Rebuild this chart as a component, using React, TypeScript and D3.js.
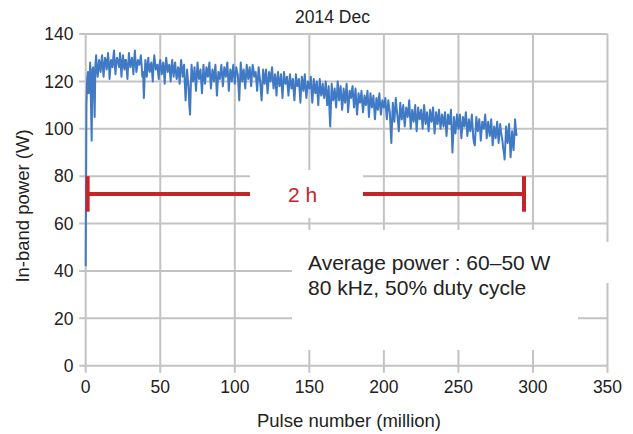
import React from "react";
import * as d3 from "d3";

const title = "2014 Dec";
const xTicks = [0, 50, 100, 150, 200, 250, 300, 350];
const yTicks = [0, 20, 40, 60, 80, 100, 120, 140];
const xLabel = "Pulse number (million)";
const yLabel = "In-band power (W)";
const noteLines = ["Average power : 60\u201350 W", "80 kHz, 50% duty cycle"];
const spanLabel = "2 h";
const spanStartEnd = [1.3, 294];
const spanLevel = 72.5;
const spanCap = [65, 80];

// In-band power (W), readings at 0, 1, 2 ... million pulses
const power = [
  42, 121, 115, 128, 95, 126, 105, 131, 122, 129,
  124, 131, 122, 130, 125, 132, 121, 129, 126, 133,
  123, 130, 127, 132, 122, 131, 125, 129, 121, 132,
  126, 130, 123, 133, 124, 129, 127, 131, 122, 113,
  129, 122, 130, 124, 128, 120, 131, 125, 127, 121,
  129, 123, 128, 119, 130, 124, 127, 120, 129, 122,
  128, 121, 126, 119, 129, 122, 127, 112, 125, 118,
  106, 127, 120, 126, 116, 128, 121, 125, 115, 127,
  119, 126, 122, 128, 117, 125, 120, 127, 114, 124,
  121, 127, 118, 126, 122, 128, 116, 125, 120, 127,
  119, 126, 123, 112, 128, 120, 125, 117, 127, 121,
  126, 118, 127, 122, 124, 116, 126, 120, 112, 125,
  119, 125, 115, 124, 120, 126, 117, 123, 114, 124,
  118, 123, 113, 124, 119, 122, 114, 123, 117, 121,
  112, 123, 118, 121, 111, 122, 116, 123, 113, 120,
  117, 122, 111, 121, 115, 120, 110, 121, 114, 119,
  113, 120, 110, 118, 101, 119, 112, 117, 109, 120,
  112, 118, 108, 117, 111, 119, 107, 116, 113, 118,
  109, 117, 106, 115, 111, 116, 107, 114, 110, 116,
  105, 115, 109, 114, 104, 113, 108, 115, 106, 112,
  109, 113, 104, 112, 107, 94, 111, 103, 113, 106,
  99, 111, 104, 110, 101, 109, 105, 112, 100, 108,
  103, 110, 99, 109, 104, 108, 100, 110, 102, 107,
  99, 108, 103, 109, 98, 107, 102, 108, 100, 106,
  101, 107, 97, 106, 102, 108, 90, 105, 98, 106,
  100, 106, 96, 105, 101, 107, 97, 104, 99, 106,
  96, 93, 105, 99, 104, 95, 103, 100, 106, 96,
  103, 97, 104, 93, 101, 96, 103, 94, 102, 97,
  92, 87, 101, 94, 102, 88, 99, 91, 104, 97,
];

// In-band power (W), readings at 0.5, 1.5, 2.5 ... million pulses
const powerHalf = [
  110, 124, 119, 112, 125, 118, 127, 126, 125, 127,
  128, 126, 127, 129, 127, 128, 125, 128, 130, 127,
  128, 129, 126, 127, 128, 127, 129, 125, 127, 128,
  128, 127, 129, 128, 126, 128, 129, 127, 124, 121,
  126, 127, 125, 127, 124, 127, 128, 126, 124, 127,
  126, 125, 124, 126, 127, 125, 124, 126, 125, 126,
  124, 123, 124, 125, 126, 124, 119, 118, 121, 110,
  118, 123, 122, 121, 122, 124, 123, 120, 121, 122,
  122, 124, 125, 122, 121, 123, 124, 121, 119, 122,
  124, 123, 122, 124, 125, 122, 121, 123, 124, 123,
  122, 124, 118, 120, 124, 123, 121, 122, 124, 123,
  122, 123, 125, 123, 120, 121, 123, 116, 118, 122,
  122, 120, 119, 122, 123, 121, 120, 119, 121, 120,
  120, 118, 119, 121, 120, 118, 119, 120, 119, 116,
  117, 120, 119, 116, 117, 119, 120, 117, 116, 118,
  119, 116, 116, 118, 117, 115, 116, 117, 116, 115,
  116, 115, 114, 108, 110, 115, 114, 113, 114, 116,
  115, 113, 112, 114, 115, 113, 111, 114, 116, 113,
  113, 111, 110, 113, 113, 111, 110, 112, 113, 111,
  110, 112, 111, 109, 108, 110, 112, 110, 109, 110,
  111, 108, 108, 109, 100, 103, 107, 108, 109, 103,
  105, 107, 107, 105, 105, 107, 108, 106, 104, 105,
  106, 104, 104, 106, 106, 104, 105, 106, 104, 103,
  103, 105, 106, 103, 102, 104, 105, 104, 103, 104,
  104, 102, 101, 104, 105, 99, 97, 101, 102, 103,
  103, 101, 100, 103, 104, 102, 100, 101, 102, 101,
  94, 99, 102, 101, 100, 99, 101, 103, 101, 100,
  100, 100, 98, 97, 99, 99, 98, 98, 99, 95,
  90, 94, 97, 98, 95, 93, 95, 97, 100,
];

const W = 633;
const H = 434;
const FONT = "'Liberation Sans', Arial, Helvetica, sans-serif";

export default function App() {
  const x = d3.scaleLinear().domain([0, 350]).range([85.7, 607.5]);
  const y = d3.scaleLinear().domain([0, 140]).range([365.7, 34]);

  const series: [number, number][] = [];
  power.forEach((v, i) => {
    series.push([i, v]);
    if (i < powerHalf.length) series.push([i + 0.5, powerHalf[i]]);
  });

  const line = d3
    .line<[number, number]>()
    .x((d) => x(d[0]))
    .y((d) => y(d[1]));

  const gridColor = "#c3c3c3";
  const red = "#c4252b";
  const blue = "#4079c4";
  const x0 = x(0);
  const x1 = x(350);
  const yb = y(0);
  const yt = y(140);

  return (
    <svg
      width={W}
      height={H}
      style={{ position: "absolute", left: 0, top: 0, background: "#fff" }}
      fontFamily={FONT}
    >
      <rect x={0} y={0} width={W} height={H} fill="#fff" />
      {/* grid */}
      {yTicks.map((t) => (
        <line key={"gy" + t} x1={x0 - 6.5} x2={x1} y1={y(t)} y2={y(t)} stroke={gridColor} strokeWidth={2} />
      ))}
      {xTicks.map((t) => (
        <line key={"gx" + t} x1={x(t)} x2={x(t)} y1={yt} y2={yb + 7} stroke={gridColor} strokeWidth={2} />
      ))}
      {/* data */}
      <path d={line(series) || ""} fill="none" stroke={blue} strokeWidth={2} strokeLinejoin="round" />
      {/* span marker */}
      <g stroke={red} strokeWidth={4}>
        <line x1={x(spanStartEnd[0])} x2={x(spanStartEnd[1])} y1={y(spanLevel)} y2={y(spanLevel)} />
        <line x1={x(spanStartEnd[0])} x2={x(spanStartEnd[0])} y1={y(spanCap[0])} y2={y(spanCap[1])} />
        <line x1={x(spanStartEnd[1])} x2={x(spanStartEnd[1])} y1={y(spanCap[0])} y2={y(spanCap[1])} />
      </g>
      <rect x={250} y={170} width={113} height={48} fill="#fff" />
      <text x={288} y={201.5} fill={red} fontSize={21}>
        {spanLabel}
      </text>
      {/* note box */}
      <rect x={292} y={230} width={286} height={120} fill="#fff" />
      <rect x={577} y={242} width={36} height={41} fill="#fff" />
      {noteLines.map((s, i) => (
        <text key={s} x={308} y={270 + i * 25} fontSize={21} fill="#222">
          {s}
        </text>
      ))}
      {/* tick labels */}
      {yTicks.map((t) => (
        <text key={"ly" + t} x={73.5} y={y(t)} dy="0.36em" textAnchor="end" fontSize={17.5} fill="#222">
          {t}
        </text>
      ))}
      {xTicks.map((t) => (
        <text key={"lx" + t} x={x(t)} y={392.5} textAnchor="middle" fontSize={17.5} fill="#222">
          {t}
        </text>
      ))}
      <text x={349} y={426.5} textAnchor="middle" fontSize={18.5} fill="#222">
        {xLabel}
      </text>
      <text
        transform={`translate(28.5,206) rotate(-90)`}
        textAnchor="middle"
        fontSize={18.5}
        fill="#222"
      >
        {yLabel}
      </text>
      <text x={332.5} y={23.3} textAnchor="middle" fontSize={17.5} fill="#222">
        {title}
      </text>
    </svg>
  );
}
